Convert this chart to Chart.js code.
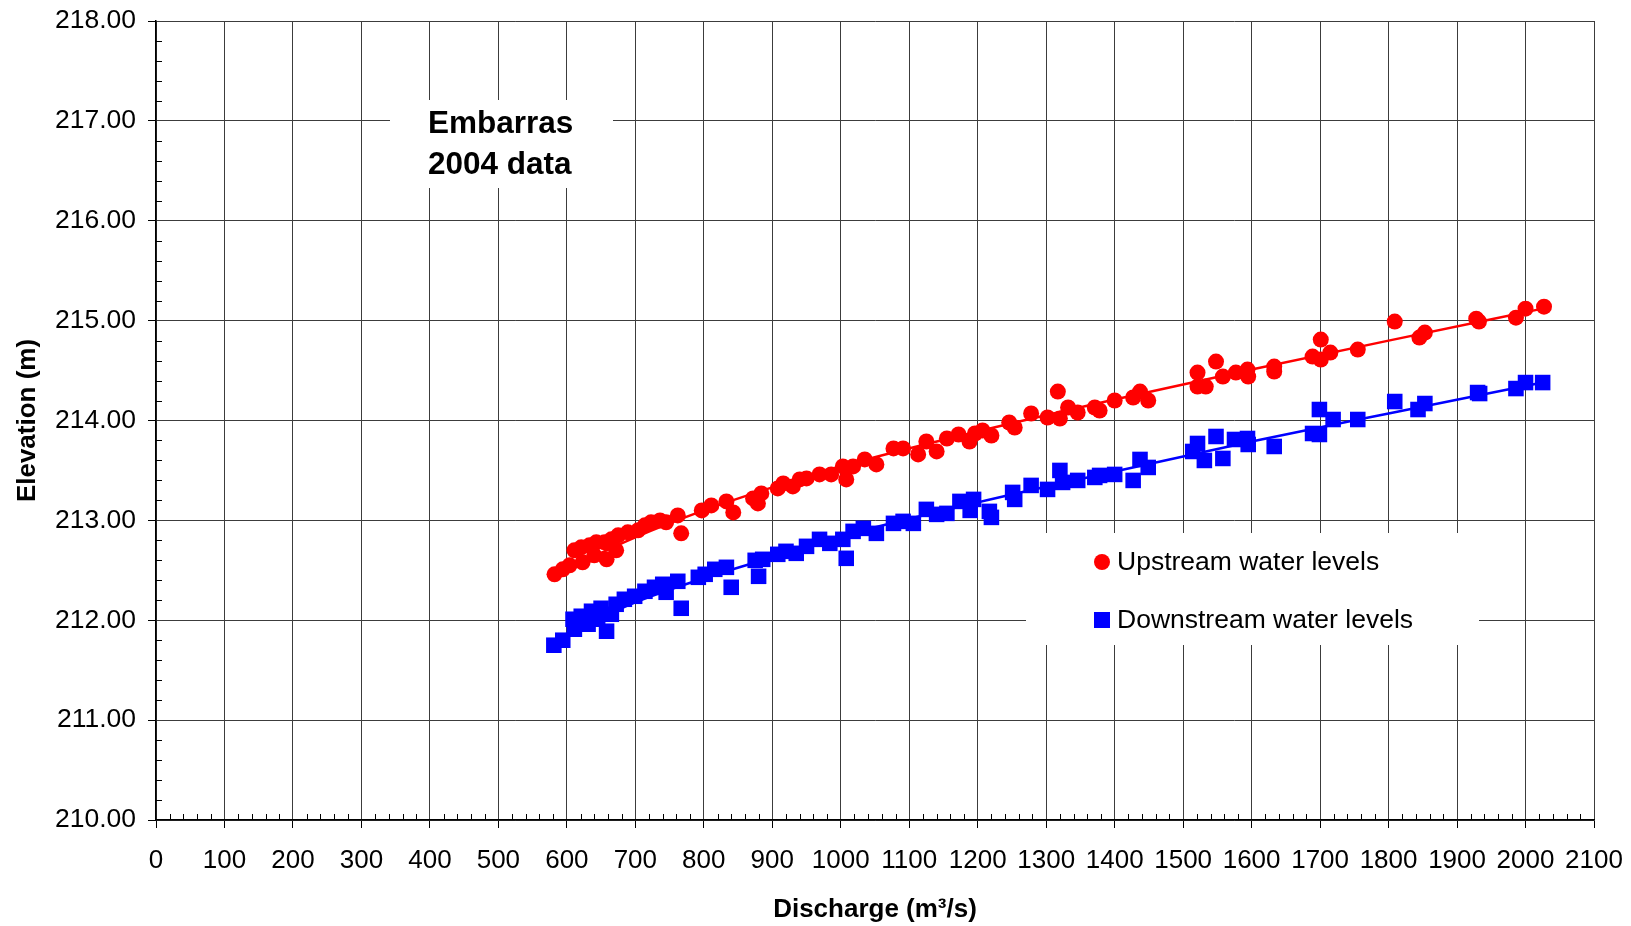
<!DOCTYPE html>
<html>
<head>
<meta charset="utf-8">
<script src="https://cdn.jsdelivr.net/npm/chart.js@4/dist/chart.umd.min.js"></script>
<style>
html,body{margin:0;padding:0;background:#fff;}
canvas{display:block;}
</style>
</head>
<body>
<canvas id="c" width="1631" height="926"></canvas>
<script>
// ---- data ----
const upstreamQ = [582,594,604,611,621,623,633,640,643,655,658,665,672,675,689,704,714,723,736,745,762,767,797,811,833,843,872,879,884,908,916,930,940,950,969,986,1003,1008,1018,1035,1052,1077,1091,1113,1125,1140,1155,1172,1188,1196,1207,1220,1246,1254,1278,1302,1317,1320,1332,1346,1371,1378,1400,1427,1437,1449,1521,1521,1533,1548,1558,1577,1594,1595,1633,1633,1689,1701,1701,1715,1755,1809,1845,1853,1928,1932,1986,2000,2027];
const upstreamZ = [212.46,212.51,212.55,212.70,212.73,212.58,212.75,212.65,212.78,212.78,212.61,212.81,212.70,212.85,212.88,212.90,212.95,212.98,213.00,212.98,213.05,212.87,213.10,213.15,213.19,213.08,213.22,213.17,213.27,213.32,213.37,213.34,213.41,213.42,213.46,213.46,213.54,213.41,213.54,213.61,213.56,213.72,213.72,213.66,213.79,213.69,213.82,213.86,213.79,213.87,213.90,213.85,213.98,213.93,214.07,214.03,214.29,214.02,214.13,214.08,214.13,214.10,214.20,214.23,214.29,214.20,214.34,214.48,214.34,214.59,214.44,214.48,214.51,214.44,214.54,214.49,214.64,214.61,214.81,214.68,214.71,214.99,214.83,214.88,215.02,214.99,215.03,215.12,215.14];

const downstreamQ = [581,594,609,611,621,631,636,645,650,658,665,672,684,699,714,728,740,745,762,767,792,802,816,833,840,875,880,886,908,920,935,950,969,984,1003,1008,1018,1033,1052,1077,1091,1106,1125,1140,1155,1174,1189,1194,1217,1220,1251,1254,1278,1302,1320,1324,1346,1371,1378,1400,1427,1437,1449,1514,1521,1531,1548,1558,1575,1594,1595,1633,1689,1699,1699,1719,1755,1809,1843,1853,1930,1933,1986,2000,2025];
const downstreamZ = [211.75,211.80,212.01,211.91,212.04,211.96,212.09,212.01,212.12,211.89,212.06,212.16,212.21,212.24,212.29,212.33,212.36,212.28,212.39,212.12,212.43,212.46,212.51,212.53,212.33,212.60,212.44,212.61,212.66,212.69,212.67,212.74,212.81,212.77,212.81,212.62,212.89,212.92,212.87,212.97,212.99,212.97,213.11,213.06,213.07,213.19,213.10,213.21,213.09,213.03,213.28,213.21,213.35,213.31,213.50,213.38,213.40,213.43,213.45,213.46,213.40,213.61,213.53,213.69,213.77,213.60,213.84,213.62,213.81,213.82,213.76,213.74,213.87,214.11,213.86,214.01,214.01,214.19,214.11,214.17,214.28,214.27,214.32,214.38,214.38];

const trendQ = [580,700,800,900,1000,1200,1400,1600,1800,2025];
const upstreamTrendZ = [212.45,212.83,213.10,213.33,213.54,213.89,214.21,214.51,214.80,215.12];
const downstreamTrendZ = [211.80,212.18,212.42,212.63,212.84,213.18,213.49,213.79,214.07,214.38];

const xTickMax = 2100, xStep = 100, xMinorStep = 20;
const yTickMin = 210, yTickMax = 218, yStep = 1, yMinorStep = 0.2;

const seriesNames = ['Upstream water levels', 'Downstream water levels'];
const titleLines = ['Embarras', '2004 data'];

function pts(xs, ys){ return xs.map((x,i)=>({x:x, y:ys[i]})); }

const RED = '#ff0000', BLUE = '#0000ff';
const FONT = "Arial, 'Liberation Sans', sans-serif";

const overlayPlugin = {
  id: 'overlay',
  beforeDatasetsDraw(chart){
    const ctx = chart.ctx;
    const x = chart.scales.x, y = chart.scales.y;
    ctx.save();
    // white boxes over the grid
    ctx.fillStyle = '#fff';
    ctx.fillRect(390, 100, 223, 88);
    ctx.fillRect(1026, 533, 453, 112);
    // title text
    ctx.fillStyle = '#000';
    ctx.font = "bold 31.5px " + FONT;
    ctx.textAlign = 'left';
    ctx.textBaseline = 'middle';
    ctx.fillText(titleLines[0], 428, 124);
    ctx.fillText(titleLines[1], 428, 165);
    // legend
    ctx.font = "26.5px " + FONT;
    ctx.fillStyle = RED;
    ctx.beginPath(); ctx.arc(1102, 562, 8, 0, Math.PI*2); ctx.fill();
    ctx.fillStyle = BLUE;
    ctx.fillRect(1094, 612, 16, 16);
    ctx.fillStyle = '#000';
    ctx.fillText(seriesNames[0], 1117, 563);
    ctx.fillText(seriesNames[1], 1117, 621);
    // minor ticks
    ctx.strokeStyle = '#000';
    ctx.lineWidth = 1;
    ctx.beginPath();
    for (let v = xMinorStep; v < xTickMax; v += xMinorStep) {
      if (v % xStep === 0) continue;
      const px = Math.round(x.getPixelForValue(v)) + 0.5;
      ctx.moveTo(px, y.bottom); ctx.lineTo(px, y.bottom - 6);
    }
    for (let k = 1; k < (yTickMax - yTickMin) / yMinorStep; k++) {
      if (k % 5 === 0) continue;
      const py = Math.round(y.getPixelForValue(yTickMin + k * yMinorStep)) + 0.5;
      ctx.moveTo(x.left, py); ctx.lineTo(x.left + 6, py);
    }
    ctx.stroke();
    ctx.restore();
  }
};

new Chart(document.getElementById('c'), {
  type: 'scatter',
  data: {
    datasets: [
      { label: seriesNames[0], data: pts(upstreamQ, upstreamZ), backgroundColor: RED, borderColor: RED,
        pointStyle: 'circle', pointRadius: 8, pointHoverRadius: 8, borderWidth: 0 },
      { label: seriesNames[1], data: pts(downstreamQ, downstreamZ), backgroundColor: BLUE, borderColor: BLUE,
        pointStyle: 'rect', pointRadius: 11, pointHoverRadius: 11, borderWidth: 0 },
      { label: 'Upstream trend', data: pts(trendQ, upstreamTrendZ), showLine: true, borderColor: RED,
        borderWidth: 2.5, pointRadius: 0, cubicInterpolationMode: 'monotone' },
      { label: 'Downstream trend', data: pts(trendQ, downstreamTrendZ), showLine: true, borderColor: BLUE,
        borderWidth: 2.5, pointRadius: 0, cubicInterpolationMode: 'monotone' }
    ]
  },
  options: {
    responsive: false,
    animation: false,
    devicePixelRatio: 1,
    layout: { padding: { top: 21, right: 37, left: 0, bottom: 0 } },
    plugins: { legend: { display: false }, tooltip: { enabled: false } },
    scales: {
      x: {
        type: 'linear', min: 0, max: xTickMax,
        ticks: { stepSize: xStep, color: '#000', font: { family: FONT, size: 26 }, padding: 17, maxRotation: 0, autoSkip: false,
                 callback: v => String(v) },
        grid: { color: '#3c3c3c', lineWidth: 1, tickLength: 8, tickColor: '#000', drawTicks: true },
        border: { color: '#000', width: 1.5 },
        title: { display: true, text: 'Discharge (m³/s)', color: '#000', font: { family: FONT, size: 26, weight: 'bold' }, padding: { top: 0, bottom: 1 } },
        afterFit(s){ s.height = 106; s.paddingLeft = 0; s.paddingRight = 0; }
      },
      y: {
        type: 'linear', min: yTickMin, max: yTickMax,
        ticks: { stepSize: yStep, color: '#000', font: { family: FONT, size: 26.5 }, padding: 12, callback: v => Number(v).toFixed(2) },
        grid: { color: '#3c3c3c', lineWidth: 1, tickLength: 8, tickColor: '#000', drawTicks: true },
        border: { color: '#000', width: 1.5 },
        title: { display: true, text: 'Elevation (m)', color: '#000', font: { family: FONT, size: 26, weight: 'bold' }, padding: { top: 12, bottom: 0 } },
        afterFit(s){ s.width = 156; s.paddingTop = 0; s.paddingBottom = 0; }
      }
    }
  },
  plugins: [overlayPlugin]
});
</script>
</body>
</html>
